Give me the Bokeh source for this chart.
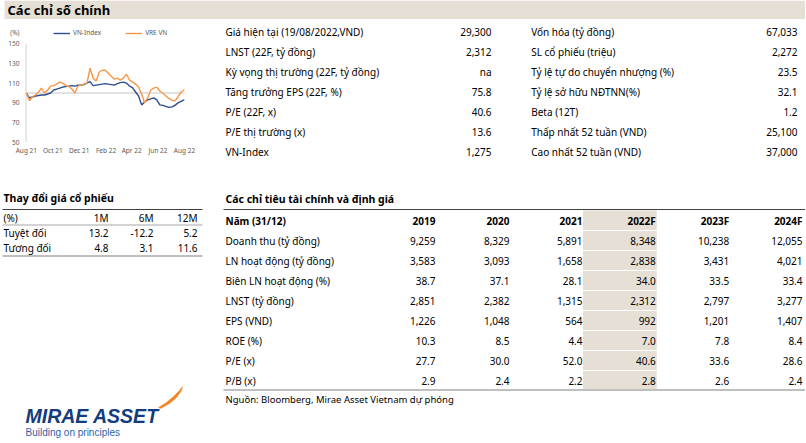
import pandas as pd
from bokeh.plotting import figure
from bokeh.layouts import column, row
from bokeh.models import (Range1d, FixedTicker, DatetimeTickFormatter, Legend,
                          LegendItem, Span)
from bokeh.core.properties import value
from bokeh.embed import file_html
from bokeh.resources import INLINE

FONT = "Noto Sans"

# ---------------- data ----------------
dates = pd.date_range("2021-08-19", periods=53, freq="7D").tolist() + [pd.Timestamp("2022-08-19")]
vn_index = [100, 95, 96, 97, 97.5, 98, 98, 99, 100, 103, 104, 105, 106, 106.5, 107, 107.5,
            107, 108, 108, 108.5, 110, 111.5, 107.5, 108, 108.5, 109, 109.5, 109, 108.5, 108,
            109.5, 110.5, 111, 110, 107, 105.5, 101, 97, 88, 91, 93, 94, 95, 93, 88, 87.5,
            86.5, 85.5, 86, 87.5, 90, 91.5, 93, 93.5]
vre_vn = [100, 92.5, 96, 98, 101, 105, 100, 103, 107, 107.5, 109, 111, 110, 107.5, 106.5, 104,
          100, 107, 108, 109, 110, 125, 115, 112, 121, 123, 123, 120, 117, 114, 115, 113, 115,
          119, 113, 111, 109, 106, 99, 90, 95, 103, 105, 106, 102, 100, 97, 94.5, 92.5, 92,
          96, 101, 103, 104]
y_ticks = [50, 70, 90, 110, 130, 150]
y_min, y_max = 50, 150
unit_tick = 161          # position of the "(%)" unit label, above the top tick
y_top = 169.2            # frame extends above 150 to hold the legend row
x_tick_dates = ["2021-08-19", "2021-10-19", "2021-12-19", "2022-02-19", "2022-04-19",
                "2022-06-19", "2022-08-19"]

key_left_labels = ["Giá hiện tại (19/08/2022,VND)", "LNST (22F, tỷ đồng)",
                   "Kỳ vọng thị trường (22F, tỷ đồng)", "Tăng trưởng EPS (22F, %)",
                   "P/E (22F, x)", "P/E thị trường (x)", "VN-Index"]
key_left_values = ["29,300", "2,312", "na", "75.8", "40.6", "13.6", "1,275"]
key_right_labels = ["Vốn hóa (tỷ đồng)", "SL cổ phiếu (triệu)", "Tỷ lệ tự do chuyển nhượng (%)",
                    "Tỷ lệ sở hữu NĐTNN(%)", "Beta (12T)", "Thấp nhất 52 tuần (VND)",
                    "Cao nhất 52 tuần (VND)"]
key_right_values = ["67,033", "2,272", "23.5", "32.1", "1.2", "25,100", "37,000"]

perf_cols = ["1M", "6M", "12M"]
perf_rows = ["Tuyệt đối", "Tương đối"]
perf_abs = [13.2, -12.2, 5.2]
perf_rel = [4.8, 3.1, 11.6]

fin_years = ["2019", "2020", "2021", "2022F", "2023F", "2024F"]
fin_labels = ["Doanh thu (tỷ đồng)", "LN hoạt động (tỷ đồng)", "Biên LN hoạt động (%)",
              "LNST (tỷ đồng)", "EPS (VND)", "ROE (%)", "P/E (x)", "P/B (x)"]
revenue = [9259, 8329, 5891, 8348, 10238, 12055]
op_profit = [3583, 3093, 1658, 2838, 3431, 4021]
op_margin = [38.7, 37.1, 28.1, 34.0, 33.5, 33.4]
net_profit = [2851, 2382, 1315, 2312, 2797, 3277]
eps = [1226, 1048, 564, 992, 1201, 1407]
roe = [10.3, 8.5, 4.4, 7.0, 7.8, 8.4]
pe = [27.7, 30.0, 52.0, 40.6, 33.6, 28.6]
pb = [2.9, 2.4, 2.2, 2.8, 2.6, 2.4]
fin_decimals = [0, 0, 1, 0, 0, 1, 1, 1]

# ---------------- helpers ----------------
W = 805
TITLE_H = 19
LEFT_W = 212
RIGHT_W = W - LEFT_W
CHART_H = 160
BODY_H = 423
LL_H = BODY_H - CHART_H
BEIGE = "#E6DFD6"


def blank(width, height, x0, x1, y0, y1):
    p = figure(width=width, height=height, x_range=Range1d(x0, x1), y_range=Range1d(y1, y0),
               toolbar_location=None, output_backend="svg", x_axis_type=None,
               y_axis_type=None, min_border=0, outline_line_color=None)
    p.frame_align = False
    return p


def txt(p, xs, ys, texts, align="left", size="10px", bold=False, color="#000000",
        font=FONT, style=None):
    p.text(x=xs, y=ys, text=texts, text_align=align, text_baseline="middle",
           text_font=value(font), text_font_size=value(size),
           text_font_style=style if style else ("bold" if bold else "normal"),
           text_color=color)


def fmt(v, d):
    return f"{v:,.{d}f}"


# ---------------- title band ----------------
pt = blank(W, TITLE_H, 0, W, 0, TITLE_H)
pt.quad(left=4, right=W, top=0, bottom=TITLE_H - 0.5, fill_color=BEIGE, line_color=None)
txt(pt, [7], [9.5], ["Các chỉ số chính"], size="13px", bold=True)

# ---------------- mini chart ----------------
x_start = dates[0] - pd.Timedelta(days=2)
pc = figure(width=LEFT_W, height=CHART_H, x_axis_type="datetime",
            x_range=Range1d(x_start, dates[-1]), y_range=Range1d(y_min, y_top),
            toolbar_location=None, output_backend="svg", min_border_left=25,
            min_border_right=LEFT_W - 184, min_border_top=5, min_border_bottom=37,
            outline_line_color=None)
pc.frame_align = False
pc.grid.visible = False
pc.add_layout(Span(location=100, dimension="width", line_color="#D9D9D9", line_width=1.5,
                   level="underlay"))
# y axis line (only over the tick span 50..150)
ax_x = dates[0] - pd.Timedelta(days=1)
pc.segment(x0=[ax_x], y0=[y_min], x1=[ax_x], y1=[y_max], line_color="#BFBFBF", line_width=1)
r_vn = pc.line(dates, vn_index, line_color="#2D4D8E", line_width=1.4)
r_vre = pc.line(dates, vre_vn, line_color="#F79646", line_width=1.4)

pc.yaxis.ticker = FixedTicker(ticks=y_ticks + [unit_tick])
pc.yaxis.major_label_overrides = {unit_tick: "(%)"}
pc.xaxis.ticker = FixedTicker(ticks=[pd.Timestamp(d).value / 1e6 for d in x_tick_dates])
pc.xaxis.formatter = DatetimeTickFormatter(days="%b %y", months="%b %y", years="%b %y")
for ax in (pc.xaxis, pc.yaxis):
    ax.major_tick_line_color = None
    ax.minor_tick_line_color = None
    ax.major_tick_out = 0
    ax.major_tick_in = 0
    ax.minor_tick_out = 0
    ax.axis_line_color = None
    ax.major_label_text_font = FONT
    ax.major_label_text_font_size = "6.5px"
    ax.major_label_text_color = "#595959"
pc.yaxis.major_label_standoff = 6
pc.xaxis.major_label_standoff = 3

legend = Legend(items=[LegendItem(label="VN-Index", renderers=[r_vn]),
                       LegendItem(label="VRE VN", renderers=[r_vre])],
                location=(28, 105), orientation="horizontal", padding=0, margin=0,
                spacing=24, glyph_width=17, glyph_height=8, label_height=8,
                label_standoff=3, label_text_font=FONT, label_text_font_size="6.5px",
                label_text_color="#595959", background_fill_alpha=0,
                border_line_color=None)
pc.add_layout(legend)

# ---------------- lower left ----------------
pl = blank(LEFT_W, LL_H, 0, LEFT_W, 179, 179 + LL_H)
txt(pl, [3], [197], ["Thay đổi giá cổ phiếu"], size="10.5px", bold=True)
pl.segment(x0=[2], y0=[209], x1=[202], y1=[209], line_color="#404040", line_width=1)
pl.segment(x0=[2], y0=[224.5], x1=[202], y1=[224.5], line_color="#A6A6A6", line_width=1)
pl.segment(x0=[2], y0=[255.5], x1=[202], y1=[255.5], line_color="#BFBFBF", line_width=2)
perf_x = [108, 153, 197]
txt(pl, [3], [217], ["(%)"])
txt(pl, perf_x, [217] * 3, perf_cols, align="right")
txt(pl, [3, 3], [232, 247.5], perf_rows)
txt(pl, perf_x, [232] * 3, [fmt(v, 1) for v in perf_abs], align="right")
txt(pl, perf_x, [247.5] * 3, [fmt(v, 1) for v in perf_rel], align="right")

# logo
pl.patch(x=[158, 166, 173, 179, 182, 181, 176, 169, 160],
         y=[407, 402, 396, 390, 386, 390, 397, 403, 408],
         fill_color="#F58220", line_color="#F58220", line_width=0.5)
txt(pl, [25], [415], ["MIRAE ASSET"], size="19.5px", color="#123C7C",
    font="Liberation Sans", style="bold italic")
txt(pl, [25], [432], ["Building on principles"], size="10px", color="#2E5FA8",
    font="Liberation Sans")

# ---------------- right side ----------------
pr = blank(RIGHT_W, BODY_H, LEFT_W, W, TITLE_H, TITLE_H + BODY_H)
ky = [31.7 + 20 * k for k in range(len(key_left_labels))]
txt(pr, [225] * 7, ky, key_left_labels)
txt(pr, [491] * 7, ky, key_left_values, align="right")
txt(pr, [530.7] * 7, ky, key_right_labels)
txt(pr, [797] * 7, ky, key_right_values, align="right")

txt(pr, [225], [198], ["Các chỉ tiêu tài chính và định giá"], size="10.5px", bold=True)
col_x = [435, 509, 582, 655.3, 728.7, 802]
hl = fin_years.index("2022F")
row_c = [220] + [240 + 20 * k for k in range(len(fin_labels))]
tops = [210] + [c - 9.5 for c in row_c[1:]]
bots = [c + 9.5 for c in row_c[:-1]] + [389]
pr.quad(left=[col_x[hl - 1] + 0.5] * len(row_c), right=[col_x[hl] + 1] * len(row_c),
        top=tops, bottom=bots, fill_color=BEIGE, line_color=None)
pr.segment(x0=[223], y0=[209], x1=[W], y1=[209], line_color="#404040", line_width=1)
pr.segment(x0=[223], y0=[389.5], x1=[W], y1=[389.5], line_color="#BFBFBF", line_width=2)

txt(pr, [225], [220], ["Năm (31/12)"], bold=True)
txt(pr, col_x, [220] * 6, fin_years, align="right", bold=True)
fin_data = [revenue, op_profit, op_margin, net_profit, eps, roe, pe, pb]
for k, (lab, vals, d) in enumerate(zip(fin_labels, fin_data, fin_decimals)):
    y = 240 + 20 * k
    txt(pr, [225], [y], [lab])
    txt(pr, col_x, [y] * 6, [fmt(v, d) for v in vals], align="right")
txt(pr, [225], [398.5], ["Nguồn: Bloomberg, Mirae Asset Vietnam dự phóng"], size="9.5px")

layout = column(pt, row(column(pc, pl), pr))
open("out.html", "w").write(file_html(layout, INLINE))
